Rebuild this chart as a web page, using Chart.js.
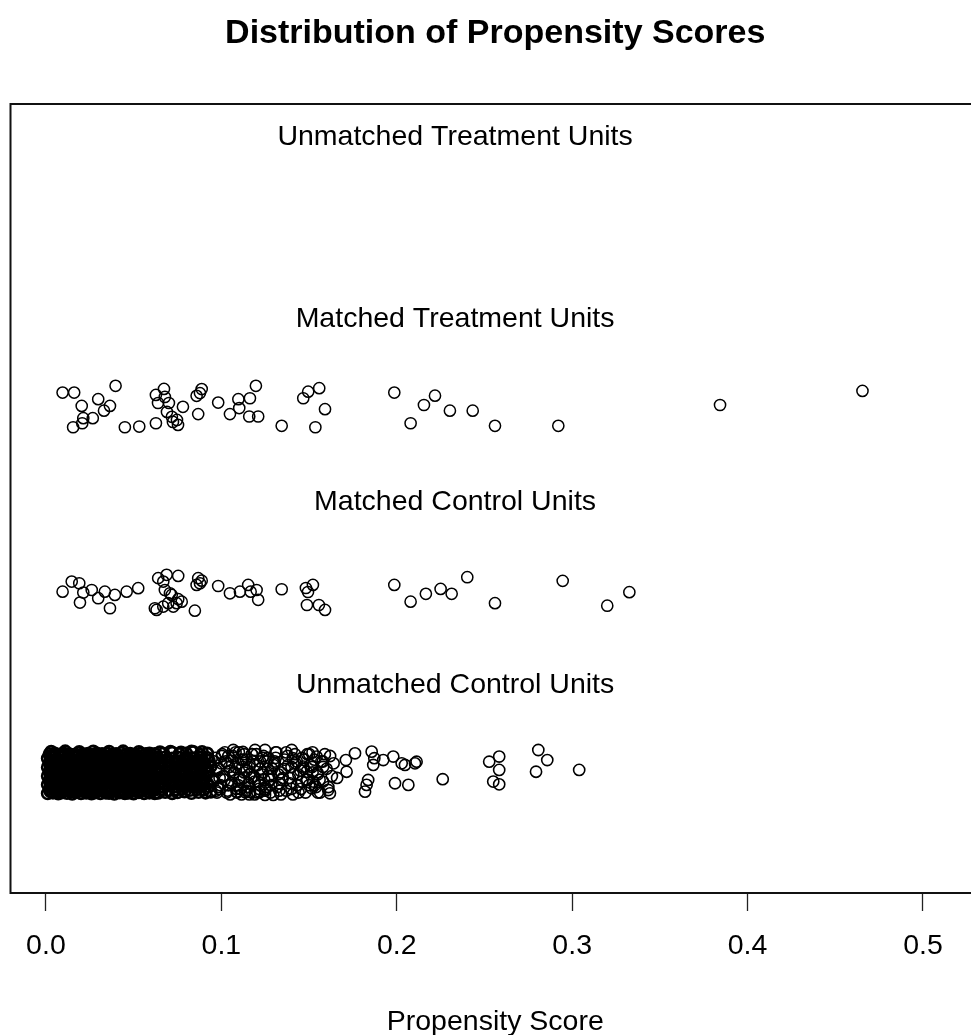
<!DOCTYPE html>
<html><head><meta charset="utf-8">
<script src="https://cdn.jsdelivr.net/npm/chart.js@4.4.0/dist/chart.umd.min.js"></script>
<style>html,body{margin:0;padding:0;overflow:hidden;background:#fff}#c{display:block}</style>
</head><body>
<canvas id="c" width="990" height="1035"></canvas>
<script>
// ---- text ----
const titleText = 'Distribution of Propensity Scores';
const axisTitle = 'Propensity Score';
const groupNames = ['Unmatched Treatment Units','Matched Treatment Units','Matched Control Units','Unmatched Control Units'];
const groupLevels = [4, 3, 2, 1];
const tickValues = [0, 0.1, 0.2, 0.3, 0.4, 0.5];
const tickLabels = ['0.0','0.1','0.2','0.3','0.4','0.5'];

// ---- matched treatment units ----
const mtX = [0.0095,0.0161,0.0397,0.0204,0.0298,0.0365,0.0331,0.0213,0.0267,0.0155,0.0207,0.0450,0.0532,0.0627,0.0627,0.0673,0.0678,0.0639,0.0701,0.0690,0.0718,0.0747,0.0753,0.0724,0.0781,0.0859,0.0888,0.0878,0.0868,0.0982,0.1049,0.1097,0.1102,0.1163,0.1197,0.1159,0.1210,0.1344,0.1467,0.1495,0.1558,0.1591,0.1536,0.1986,0.2079,0.2155,0.2218,0.2303,0.2433,0.2560,0.2921,0.3843,0.4655];
const mtY = [2.580,2.580,2.617,2.507,2.544,2.507,2.481,2.440,2.440,2.390,2.412,2.390,2.394,2.412,2.567,2.600,2.556,2.523,2.523,2.474,2.447,2.430,2.403,2.419,2.502,2.562,2.599,2.577,2.462,2.525,2.462,2.544,2.495,2.549,2.617,2.449,2.449,2.398,2.549,2.585,2.604,2.489,2.390,2.580,2.412,2.512,2.563,2.481,2.481,2.398,2.398,2.512,2.589];

// ---- matched control units ----
const mcX = [0.0095,0.0147,0.0190,0.0213,0.0261,0.0194,0.0298,0.0336,0.0365,0.0393,0.0460,0.0526,0.0640,0.0688,0.0754,0.0669,0.0678,0.0707,0.0717,0.0754,0.0774,0.0621,0.0631,0.0669,0.0697,0.0726,0.0745,0.0849,0.0868,0.0878,0.0859,0.0888,0.0982,0.1049,0.1106,0.1153,0.1167,0.1201,0.1210,0.1344,0.1522,0.1482,0.1494,0.1488,0.1556,0.1591,0.1986,0.2079,0.2166,0.2250,0.2313,0.2402,0.2560,0.2946,0.3200,0.3326];
const mcY = [1.490,1.545,1.536,1.485,1.499,1.430,1.454,1.490,1.399,1.472,1.490,1.509,1.564,1.582,1.576,1.545,1.499,1.481,1.472,1.449,1.435,1.399,1.390,1.408,1.427,1.408,1.427,1.386,1.564,1.536,1.527,1.550,1.521,1.481,1.490,1.527,1.490,1.499,1.445,1.503,1.527,1.510,1.488,1.417,1.417,1.390,1.527,1.435,1.478,1.505,1.478,1.569,1.427,1.549,1.413,1.487];

// ---- unmatched control units: dense core (scores below ~0.095) ----
const ucCoreX = [
0.001,0.004,0.007,0.009,0.012,0.015,0.017,0.020,0.023,0.026,0.028,0.031,0.034,0.036,0.039,0.042,0.045,0.047,0.050,0.053,0.056,0.059,0.062,
0.002,0.005,0.008,0.011,0.013,0.016,0.019,0.021,0.024,0.027,0.030,0.032,0.035,0.038,0.040,0.043,0.046,0.049,0.051,0.054,0.057,0.060,
0.001,0.003,0.006,0.009,0.012,0.014,0.017,0.020,0.022,0.025,0.028,0.031,0.033,0.036,0.039,0.041,0.044,0.047,0.050,0.052,0.055,0.058,0.061,
0.002,0.005,0.007,0.010,0.013,0.016,0.018,0.021,0.024,0.026,0.029,0.032,0.035,0.037,0.040,0.043,0.045,0.048,0.051,0.054,0.056,0.059,
0.001,0.004,0.006,0.009,0.011,0.014,0.017,0.019,0.022,0.025,0.027,0.030,0.033,0.036,0.038,0.041,0.044,0.046,0.049,0.052,0.055,0.057,0.060,
0.002,0.005,0.008,0.010,0.013,0.015,0.018,0.021,0.023,0.026,0.029,0.031,0.034,0.037,0.040,0.042,0.045,0.048,0.050,0.053,0.056,0.059,0.062,
0.001,0.003,0.006,0.009,0.011,0.014,0.016,0.019,0.022,0.024,0.027,0.030,0.032,0.035,0.038,0.041,0.043,0.046,0.049,0.051,0.054,0.057,0.060,
0.002,0.004,0.007,0.010,0.012,0.015,0.018,0.020,0.023,0.026,0.028,0.031,0.034,0.037,0.039,0.042,0.045,0.047,0.050,0.053,0.055,0.058,0.061,
0.001,0.004,0.006,0.009,0.012,0.014,0.017,0.020,0.022,0.025,0.028,0.030,0.033,0.036,0.039,0.041,0.044,0.047,0.049,0.052,0.055,0.058,0.060,
0.002,0.005,0.008,0.010,0.013,0.016,0.019,0.021,0.024,0.027,0.029,0.032,0.035,0.038,0.040,0.043,0.046,0.048,0.051,0.054,0.057,0.059,0.062,
0.003,0.011,0.019,0.027,0.036,0.044,0.053,
0.0025,0.0050,0.0079,0.0104,0.0132,0.0156,0.0184,0.0209,0.0237,0.0261,0.0290,0.0314,0.0342,0.0367,0.0395,0.0419,0.0448,0.0472,0.0500,0.0525,0.0553,0.0577,0.0605,
0.0027,0.0053,0.0077,0.0106,0.0130,0.0158,0.0182,0.0211,0.0235,0.0263,0.0288,0.0316,0.0340,0.0369,0.0393,0.0421,0.0446,0.0474,0.0498,0.0527,0.0551,0.0579,0.0603,
0.0025,0.0050,0.0079,0.0104,0.0132,0.0156,0.0184,0.0209,0.0237,0.0261,0.0290,0.0314,0.0342,0.0367,0.0395,0.0419,0.0448,0.0472,0.0500,0.0525,0.0553,0.0577,0.0605,
0.0027,0.0053,0.0077,0.0106,0.0130,0.0158,0.0182,0.0211,0.0235,0.0263,0.0288,0.0316,0.0340,0.0369,0.0393,0.0421,0.0446,0.0474,0.0498,0.0527,0.0551,0.0579,0.0603,
0.0025,0.0050,0.0079,0.0104,0.0132,0.0156,0.0184,0.0209,0.0237,0.0261,0.0290,0.0314,0.0342,0.0367,0.0395,0.0419,0.0448,0.0472,0.0500,0.0525,0.0553,0.0577,0.0605,
0.0027,0.0053,0.0077,0.0106,0.0130,0.0158,0.0182,0.0211,0.0235,0.0263,0.0288,0.0316,0.0340,0.0369,0.0393,0.0421,0.0446,0.0474,0.0498,0.0527,0.0551,0.0579,0.0603,
0.0025,0.0050,0.0079,0.0104,0.0132,0.0156,0.0184,0.0209,0.0237,0.0261,0.0290,0.0314,0.0342,0.0367,0.0395,0.0419,0.0448,0.0472,0.0500,0.0525,0.0553,0.0577,0.0605,
0.0027,0.0053,0.0077,0.0106,0.0130,0.0158,0.0182,0.0211,0.0235,0.0263,0.0288,0.0316,0.0340,0.0369,0.0393,0.0421,0.0446,0.0474,0.0498,0.0527,0.0551,0.0579,0.0603,
0.0025,0.0050,0.0079,0.0104,0.0132,0.0156,0.0184,0.0209,0.0237,0.0261,0.0290,0.0314,0.0342,0.0367,0.0395,0.0419,0.0448,0.0472,0.0500,0.0525,0.0553,0.0577,0.0605,
0.064,0.068,0.072,0.075,0.079,0.083,0.087,0.091,0.094,
0.066,0.070,0.073,0.077,0.081,0.085,0.089,0.093,
0.063,0.067,0.071,0.075,0.079,0.082,0.086,0.090,0.095,
0.065,0.069,0.073,0.077,0.080,0.084,0.088,0.092,
0.064,0.068,0.071,0.075,0.079,0.083,0.087,0.091,0.094,
0.066,0.070,0.074,0.078,0.081,0.085,0.089,0.093,
0.063,0.067,0.072,0.076,0.080,0.084,0.088,0.092,
0.062,0.066,0.070,0.074,0.078,0.082,0.086,0.090,
0.064,0.068,0.072,0.076,0.080,0.084,0.088,0.092,
0.062,0.066,0.070,0.074,0.078,0.082,0.086,0.090,
0.064,0.068,0.072,0.076,0.080,0.084,0.088,0.092,
0.062,0.066,0.070,0.074,0.078,0.082,0.086,0.090,
0.064,0.068,0.072,0.076,0.080,0.084,0.088,0.092,
0.065,0.071,0.077,0.083,0.089
];
const ucCoreY = [
0.385,0.389,0.384,0.390,0.387,0.383,0.391,0.386,0.388,0.384,0.390,0.385,0.389,0.387,0.383,0.390,0.386,0.388,0.384,0.391,0.385,0.389,0.386,
0.409,0.412,0.407,0.414,0.410,0.406,0.413,0.408,0.411,0.415,0.407,0.410,0.413,0.408,0.412,0.406,0.411,0.414,0.409,0.407,0.412,0.410,
0.433,0.436,0.431,0.437,0.434,0.430,0.438,0.432,0.435,0.431,0.437,0.433,0.436,0.430,0.434,0.438,0.432,0.435,0.431,0.436,0.433,0.437,0.434,
0.457,0.460,0.455,0.461,0.458,0.454,0.462,0.456,0.459,0.455,0.461,0.457,0.460,0.454,0.458,0.462,0.456,0.459,0.455,0.460,0.457,0.461,
0.481,0.484,0.479,0.485,0.482,0.478,0.486,0.480,0.483,0.479,0.485,0.481,0.484,0.478,0.482,0.486,0.480,0.483,0.479,0.484,0.481,0.485,0.482,
0.505,0.508,0.503,0.509,0.506,0.502,0.510,0.504,0.507,0.503,0.509,0.505,0.508,0.502,0.506,0.510,0.504,0.507,0.503,0.508,0.505,0.509,0.506,
0.529,0.532,0.527,0.533,0.530,0.526,0.534,0.528,0.531,0.527,0.533,0.529,0.532,0.526,0.530,0.534,0.528,0.531,0.527,0.532,0.529,0.533,0.530,
0.553,0.556,0.551,0.557,0.554,0.550,0.558,0.552,0.555,0.551,0.557,0.553,0.556,0.550,0.554,0.558,0.552,0.555,0.551,0.556,0.553,0.557,0.554,
0.577,0.580,0.575,0.581,0.578,0.574,0.582,0.576,0.579,0.575,0.581,0.577,0.580,0.574,0.578,0.582,0.576,0.579,0.575,0.580,0.577,0.581,0.578,
0.601,0.604,0.599,0.605,0.602,0.598,0.606,0.600,0.603,0.599,0.605,0.601,0.604,0.598,0.602,0.606,0.600,0.603,0.599,0.604,0.601,0.605,0.602,
0.614,0.616,0.613,0.615,0.614,0.616,0.613,
0.397,0.400,0.396,0.399,0.401,0.395,0.398,0.402,0.396,0.399,0.397,0.401,0.395,0.400,0.398,0.396,0.402,0.397,0.399,0.395,0.400,0.398,0.401,
0.421,0.424,0.420,0.423,0.425,0.419,0.422,0.426,0.420,0.423,0.421,0.425,0.419,0.424,0.422,0.420,0.426,0.421,0.423,0.419,0.424,0.422,0.425,
0.445,0.448,0.444,0.447,0.449,0.443,0.446,0.450,0.444,0.447,0.445,0.449,0.443,0.448,0.446,0.444,0.450,0.445,0.447,0.443,0.448,0.446,0.449,
0.469,0.472,0.468,0.471,0.473,0.467,0.470,0.474,0.468,0.471,0.469,0.473,0.467,0.472,0.470,0.468,0.474,0.469,0.471,0.467,0.472,0.470,0.473,
0.493,0.496,0.492,0.495,0.497,0.491,0.494,0.498,0.492,0.495,0.493,0.497,0.491,0.496,0.494,0.492,0.498,0.493,0.495,0.491,0.496,0.494,0.497,
0.517,0.520,0.516,0.519,0.521,0.515,0.518,0.522,0.516,0.519,0.517,0.521,0.515,0.520,0.518,0.516,0.522,0.517,0.519,0.515,0.520,0.518,0.521,
0.541,0.544,0.540,0.543,0.545,0.539,0.542,0.546,0.540,0.543,0.541,0.545,0.539,0.544,0.542,0.540,0.546,0.541,0.543,0.539,0.544,0.542,0.545,
0.565,0.568,0.564,0.567,0.569,0.563,0.566,0.570,0.564,0.567,0.565,0.569,0.563,0.568,0.566,0.564,0.570,0.565,0.567,0.563,0.568,0.566,0.569,
0.589,0.592,0.588,0.591,0.593,0.587,0.590,0.594,0.588,0.591,0.589,0.593,0.587,0.592,0.590,0.588,0.594,0.589,0.591,0.587,0.592,0.590,0.593,
0.388,0.393,0.386,0.391,0.395,0.387,0.392,0.389,0.394,
0.423,0.428,0.421,0.426,0.430,0.422,0.427,0.424,
0.458,0.463,0.456,0.461,0.465,0.457,0.462,0.459,0.464,
0.493,0.498,0.491,0.496,0.500,0.492,0.497,0.494,
0.528,0.533,0.526,0.531,0.535,0.527,0.532,0.529,0.534,
0.563,0.568,0.561,0.566,0.570,0.562,0.567,0.564,
0.598,0.603,0.608,0.601,0.605,0.612,0.597,0.604,
0.404,0.408,0.402,0.406,0.409,0.403,0.407,0.405,
0.439,0.443,0.437,0.441,0.444,0.438,0.442,0.440,
0.474,0.478,0.472,0.476,0.479,0.473,0.477,0.475,
0.509,0.513,0.507,0.511,0.514,0.508,0.512,0.510,
0.544,0.548,0.542,0.546,0.549,0.543,0.547,0.545,
0.579,0.583,0.577,0.581,0.584,0.578,0.582,0.580,
0.611,0.614,0.610,0.615,0.612
];

// ---- unmatched control units: spread (scores above ~0.095) ----
const ucX = [
0.097,0.099,0.100,0.102,0.104,0.105,0.107,0.109,0.110,0.112,0.113,0.115,0.116,0.118,0.119,0.121,0.122,0.124,0.125,0.127,0.128,0.130,0.131,0.133,0.134,0.136,0.137,0.139,0.140,0.142,0.143,0.145,0.146,0.148,0.149,0.151,0.152,0.154,0.155,0.157,0.158,0.160,0.162,0.163,
0.096,0.098,0.101,0.103,0.104,0.106,0.108,0.110,0.111,0.113,0.114,0.116,0.117,0.119,0.120,0.122,0.123,0.125,0.126,0.128,0.129,0.131,0.132,0.134,0.135,0.137,0.138,0.140,0.141,0.143,0.144,0.146,0.147,0.149,0.150,0.152,0.153,0.155,0.156,0.158,0.159,0.161,0.164,0.166,
0.0955,0.0965,0.0975,0.0985,0.0995,0.1005,0.1015,0.1025,0.1035,0.1045,0.1055,0.1065,0.1075,0.1085,0.1095,0.1105,0.1115,0.1125,0.1145,0.1155,0.1175,0.1185,0.1205,0.1215,0.1235,0.1245,0.1265,0.1285,0.1305,0.1325,
0.0972,0.0988,0.1003,0.1019,0.1034,0.1050,0.1066,0.1081,0.1097,0.1112,0.1128,0.1143,0.1159,0.1174,0.1190,0.1206,0.1221,0.1237,0.1252,0.1268,0.1283,0.1299,0.1314,0.1330,0.1346,0.1361,0.1377,0.1392,0.1408,0.1423,0.1439,0.1454,0.1470,0.1486,0.1501,0.1517,0.1532,0.1548,0.1563,0.1579,
0.1135,0.1163,0.1191,0.1220,0.1249,0.1296,0.1087,0.1068,0.1123,0.1192,0.1249,
0.2113,0.2104,0.2047,0.2028,0.1980,0.2066,0.1990,0.2262,0.2527,0.2584,0.2584,0.2550,0.2584,0.2807,0.2858,0.2794,0.3040,0.1828,0.1837,0.1819,0.1762,0.1857,0.1866,0.1872,0.1923,0.1710,0.1714,0.1609,0.1619,0.1543,0.1467,0.1486,0.1524,0.1515,0.1401,0.1407
];
const ucY = [
0.40,0.47,0.55,0.61,0.43,0.51,0.58,0.39,0.46,0.53,0.60,0.42,0.49,0.56,0.38,0.45,0.52,0.59,0.41,0.48,0.39,0.55,0.61,0.44,0.50,0.57,0.40,0.47,0.53,0.60,0.43,0.51,0.58,0.39,0.46,0.54,0.61,0.42,0.49,0.56,0.45,0.52,0.59,0.48,
0.56,0.42,0.48,0.39,0.59,0.44,0.53,0.61,0.41,0.50,0.57,0.38,0.47,0.54,0.60,0.43,0.49,0.40,0.56,0.46,0.52,0.58,0.42,0.38,0.47,0.61,0.54,0.41,0.49,0.56,0.39,0.45,0.52,0.60,0.43,0.50,0.57,0.39,0.46,0.53,0.60,0.42,0.55,0.47,
0.45,0.58,0.39,0.52,0.43,0.60,0.48,0.56,0.40,0.53,0.44,0.59,0.50,0.41,0.55,0.47,0.38,0.57,0.51,0.44,0.60,0.48,0.54,0.41,0.58,0.46,0.52,0.43,0.56,0.49,
0.51,0.41,0.59,0.46,0.55,0.38,0.49,0.61,0.43,0.57,0.47,0.40,0.53,0.60,0.45,0.39,0.56,0.50,0.42,0.58,0.48,0.54,0.61,0.40,0.46,0.52,0.59,0.44,0.38,0.55,0.49,0.41,0.57,0.46,0.60,0.53,0.43,0.50,0.39,0.56,
0.393,0.393,0.393,0.393,0.377,0.377,0.395,0.623,0.612,0.623,0.623,
0.559,0.550,0.541,0.550,0.587,0.432,0.441,0.463,0.559,0.587,0.514,0.450,0.435,0.623,0.568,0.504,0.514,0.432,0.459,0.395,0.605,0.614,0.541,0.578,0.568,0.568,0.504,0.404,0.386,0.587,0.532,0.504,0.450,0.413,0.623,0.578
];

function pts(xs, ys) {
  const n = Math.min(xs.length, ys.length), out = [];
  for (let i = 0; i < n; i++) out.push({x: xs[i], y: ys[i]});
  return out;
}
const allX = mtX.concat(mcX, ucCoreX, ucX);
const labelX = (Math.min(...allX) + Math.max(...allX)) / 2;

const FONT = '"Liberation Sans", Arial, Helvetica, sans-serif';

const decor = {
  id: 'decor',
  afterDraw(chart) {
    const {ctx, chartArea: a, scales: {x, y}} = chart;
    ctx.save();
    ctx.strokeStyle = '#111';
    ctx.lineWidth = 2;
    ctx.strokeRect(a.left, a.top, a.right - a.left, a.bottom - a.top);
    ctx.fillStyle = '#000';
    ctx.textAlign = 'center';
    ctx.textBaseline = 'alphabetic';
    const cx = (a.left + a.right) / 2;
    ctx.font = 'bold 34px ' + FONT;
    ctx.fillText(titleText, cx, 43);
    ctx.font = '28.5px ' + FONT;
    const lx = x.getPixelForValue(labelX);
    groupNames.forEach((t, i) => ctx.fillText(t, lx, y.getPixelForValue(groupLevels[i]) + 11.5));
    ctx.fillText(axisTitle, cx, 1030);
    ctx.restore();
  }
};

const ptStyle = {pointStyle: 'circle', pointRadius: 5.6, pointBorderWidth: 1.5, pointBorderColor: '#000', pointBackgroundColor: 'rgba(0,0,0,0)', showLine: false};

new Chart(document.getElementById('c'), {
  type: 'scatter',
  data: {
    datasets: [
      Object.assign({label: groupNames[1], data: pts(mtX, mtY)}, ptStyle),
      Object.assign({label: groupNames[2], data: pts(mcX, mcY)}, ptStyle),
      Object.assign({label: groupNames[3], data: pts(ucCoreX, ucCoreY)}, ptStyle, {pointBorderWidth: 2.6}),
      Object.assign({label: groupNames[3], data: pts(ucX, ucY)}, ptStyle, {pointBorderWidth: 1.6})
    ]
  },
  options: {
    responsive: false,
    animation: false,
    devicePixelRatio: 1,
    events: [],
    layout: {padding: {left: 10.5, top: 104, right: 10, bottom: 0}},
    plugins: {legend: {display: false}, title: {display: false}, tooltip: {enabled: false}},
    scales: {
      x: {
        type: 'linear', position: 'bottom',
        min: -0.0202, max: 0.5325,
        afterBuildTicks: s => { s.ticks = tickValues.map(v => ({value: v})); },
        afterFit: s => { s.height = 142; },
        grid: {drawOnChartArea: false, drawTicks: true, tickLength: 18, tickWidth: 1.3, tickColor: '#222'},
        border: {display: false},
        ticks: {padding: 18, color: '#000', font: {family: FONT, size: 28.5}, maxRotation: 0, autoSkip: false,
                callback: (v, i) => tickLabels[i]}
      },
      y: {display: false, min: -0.16, max: 4.16}
    }
  },
  plugins: [decor]
});
</script>
</body></html>
